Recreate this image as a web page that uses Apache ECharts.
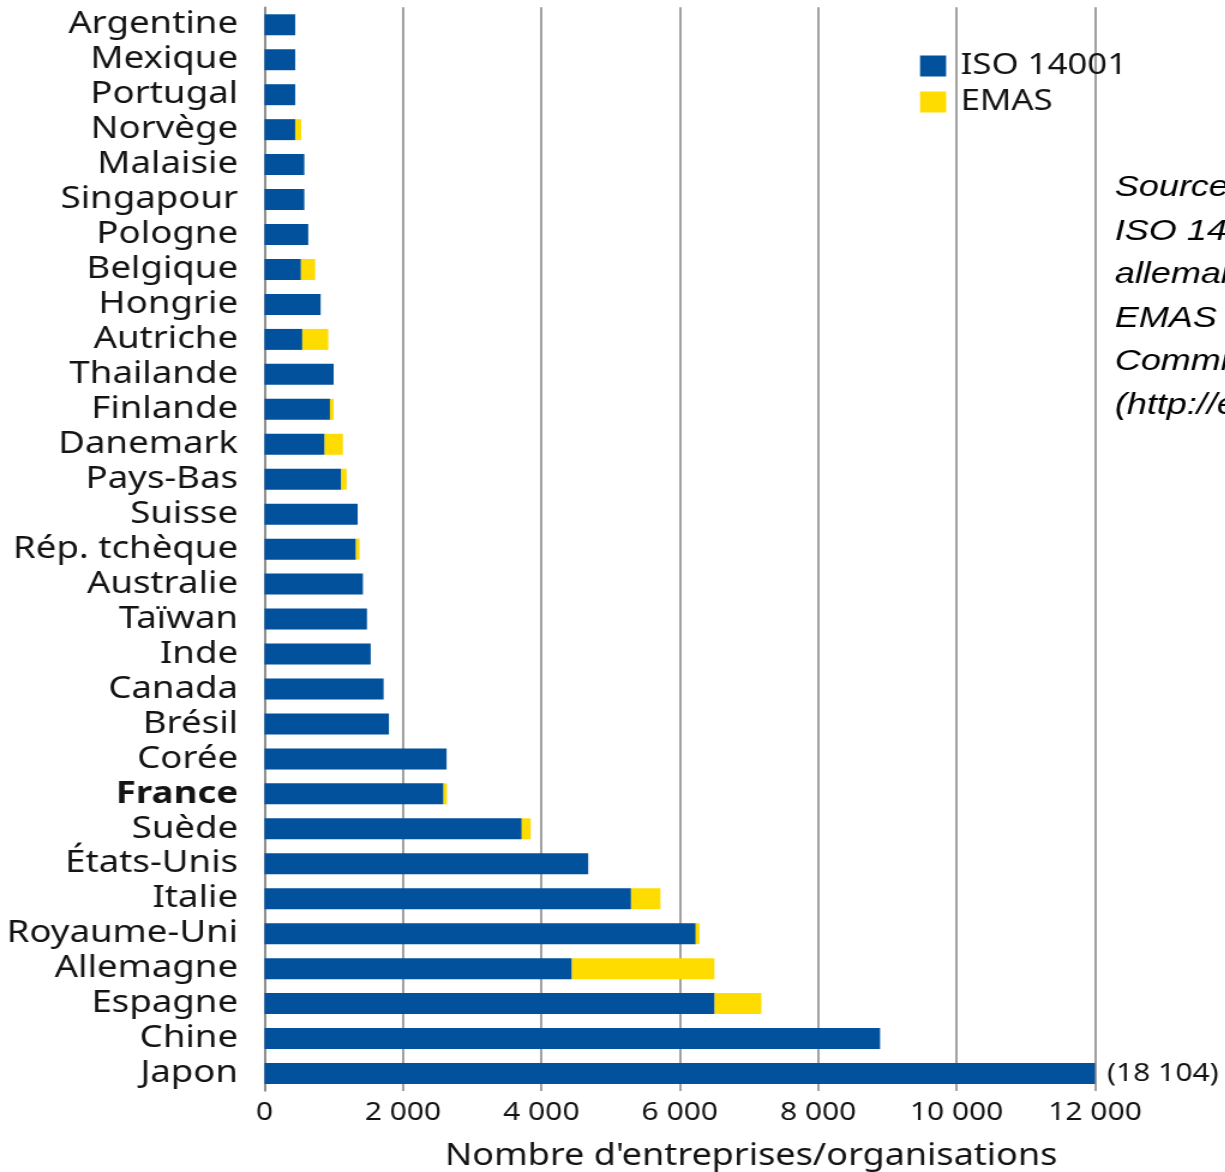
<!DOCTYPE html>
<html lang="fr">
<head>
<meta charset="utf-8">
<title>ISO 14001 et EMAS par pays</title>
<script src="https://cdn.jsdelivr.net/npm/echarts@6/dist/echarts.min.js"></script>
<style>
  html, body { margin: 0; padding: 0; background: #ffffff; overflow: hidden; }
  /* the figure is drawn in a narrower box and widened horizontally */
  #chart { width: 1021px; height: 1172px; transform: scaleX(1.2); transform-origin: 0 0; }
</style>
</head>
<body>
<div id="chart"></div>
<script>
// Pays, du haut vers le bas
const categories = [
  'Argentine', 'Mexique', 'Portugal', 'Norvège', 'Malaisie', 'Singapour', 'Pologne',
  'Belgique', 'Hongrie', 'Autriche', 'Thailande', 'Finlande', 'Danemark', 'Pays-Bas',
  'Suisse', 'Rép. tchèque', 'Australie', 'Taïwan', 'Inde', 'Canada', 'Brésil', 'Corée',
  'France', 'Suède', 'États-Unis', 'Italie', 'Royaume-Uni', 'Allemagne', 'Espagne',
  'Chine', 'Japon'
];

// Entreprises / organisations certifiées ISO 14001
const iso14001 = [
  443, 443, 443, 443, 575, 575, 632,
  527, 811, 546, 999, 946, 869, 1109,
  1346, 1321, 1422, 1480, 1534, 1721, 1798, 2631,
  2587, 3717, 4677, 5296, 6231, 4441, 6504,
  8894, 18104
];

// Enregistrements EMAS
const emas = [
  0, 0, 0, 87, 0, 0, 0,
  206, 0, 375, 0, 53, 264, 77,
  0, 53, 0, 0, 0, 0, 0, 0,
  50, 130, 0, 425, 55, 2060, 675,
  0, 0
];

const xTicks = { min: 0, max: 12000, step: 2000 };
const seriesNames = ['ISO 14001', 'EMAS'];
const highlighted = 'France';

const sourceLines = [
  'Sources :',
  'ISO 14001 : Office fédéral',
  "allemand de l'environnement ;",
  'EMAS : site de la',
  'Commission européenne',
  '(http://ec.europa.eu/environment/emas)'
];

const BLUE = '#01519c';
const YELLOW = '#ffdc00';
const GRID = '#8a8a8a';
const INK = '#141414';
const FONT = '"Noto Sans", "Open Sans", sans-serif';

// thousands separated by a space, French style
const fmt = v => String(v).replace(/\B(?=(\d{3})+(?!\d))/g, ' ');

// bars running past the axis end are cut there and carry their full value
const isoData = iso14001.map(v => v > xTicks.max ? {
  value: v,
  label: {
    show: true, position: 'right', distance: 10,
    formatter: p => '(' + fmt(p.value) + ')',
    fontFamily: FONT, fontSize: 25, color: INK
  }
} : v);

const chart = echarts.init(document.getElementById('chart'), null, { renderer: 'canvas' });

chart.setOption({
  animation: false,
  backgroundColor: '#ffffff',
  grid: {
    left: 220.4, right: 108.5, top: 7.3, bottom: 81,
    containLabel: false, outerBoundsMode: 'none'
  },
  legend: {
    orient: 'vertical',
    left: 761.7, top: 46.5,
    itemWidth: 21.7, itemHeight: 21, itemGap: 7,
    icon: 'rect',
    data: seriesNames,
    textStyle: { fontFamily: FONT, fontSize: 29, color: INK, padding: [0, 0, 0, 7] }
  },
  xAxis: {
    type: 'value',
    min: xTicks.min, max: xTicks.max, interval: xTicks.step,
    name: "Nombre d'entreprises/organisations",
    nameLocation: 'middle', nameGap: 50.5,
    nameTextStyle: { fontFamily: FONT, fontSize: 30, color: INK, lineHeight: 30, padding: [0, 0, 0, 119] },
    axisLine: { show: false },
    axisTick: { show: false },
    splitLine: { show: true, lineStyle: { color: GRID, width: 1.6 } },
    axisLabel: { fontFamily: FONT, fontSize: 25, color: INK, margin: 9.5, formatter: v => fmt(v) }
  },
  yAxis: {
    type: 'category',
    inverse: true,
    data: categories,
    axisTick: { show: false },
    axisLine: { show: true, lineStyle: { color: GRID, width: 1.6 } },
    axisLabel: {
      interval: 0,
      fontFamily: FONT, fontSize: 30.5, color: INK, margin: 22,
      formatter: v => v === highlighted ? '{b|' + v + '}' : v,
      rich: { b: { fontFamily: FONT, fontSize: 30.5, fontWeight: 'bold', color: INK } }
    }
  },
  series: [
    {
      name: seriesNames[0], type: 'bar', stack: 'total', clip: true,
      barWidth: '60%',
      itemStyle: { color: BLUE },
      data: isoData
    },
    {
      name: seriesNames[1], type: 'bar', stack: 'total', clip: true,
      barWidth: '60%',
      itemStyle: { color: YELLOW },
      data: emas
    }
  ],
  graphic: [{
    type: 'text',
    left: 929, top: 166,
    style: {
      text: sourceLines.join('\n'),
      font: 'italic 30px "Liberation Sans", Arial, sans-serif',
      fill: '#000000',
      lineHeight: 43.5
    }
  }]
});
</script>
</body>
</html>
